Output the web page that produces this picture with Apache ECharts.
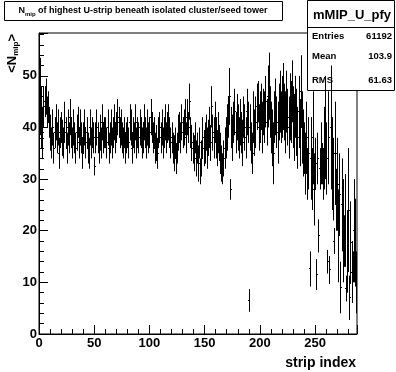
<!DOCTYPE html>
<html>
<head>
<meta charset="utf-8">
<script src="https://cdn.jsdelivr.net/npm/echarts@6/dist/echarts.min.js"></script>
<style>
html,body{margin:0;padding:0;background:#fff;}
#c{width:396px;height:372px;}
</style>
</head>
<body>
<div id="c"></div>
<script>
// ---- data ----
const xTicks = [0, 50, 100, 150, 200, 250];
const yTicks = [0, 10, 20, 30, 40, 50];
const binMeans = [
  36, 46, 42, 39, 44, 45, 46, 43, 44, 41,
  39, 37, 40, 36, 39, 41, 38, 40, 35, 39,
  40, 38, 37, 41, 39, 36, 40, 38, 42, 39,
  37, 40, 38, 36, 39, 41, 37, 40, 38, 35,
  38, 40, 37, 39, 36, 35, 40, 37, 39, 38,
  32.5, 38, 40, 38, 36, 39, 37, 41, 38, 39,
  39, 37, 40, 36, 38, 40, 37, 39, 41, 38,
  40, 42, 41, 39, 40, 38, 37, 39, 36, 38,
  39, 37, 41, 40, 36, 39, 38, 41, 37, 39,
  38, 40, 39, 37, 38, 41, 39, 37, 40, 38,
  39, 42, 40, 38, 39, 36, 37, 35, 39, 40,
  38, 40, 37, 39, 41, 38, 40, 41, 39, 37,
  38, 36, 35, 37, 34, 36, 39, 40, 38, 41,
  39, 40, 42, 38, 42, 40, 45, 39, 37, 36,
  35, 38, 34, 36, 33, 37, 31.5, 34, 38, 36,
  37, 39, 36, 38, 40, 37, 44, 39, 38, 41,
  38, 36, 39, 37, 35, 33, 32, 34, 36, 38,
  40, 42, 46, 28, 40, 38, 41, 43, 39, 42,
  40, 38, 41, 39, 37, 42, 40, 38, 43, 41,
  6.5, 40, 37, 35, 42, 39, 41, 44, 45, 40,
  42, 44, 40, 43, 42, 45, 41, 46, 48, 43,
  40, 38, 35, 42, 44, 41, 39, 43, 45, 42,
  44, 46, 43, 41, 45, 42, 40, 44, 43, 47,
  42, 40, 44, 41, 38, 43, 39, 47, 40, 37,
  36, 33, 38, 31, 35, 12.6, 34, 30, 38, 28,
  33, 11.5, 34, 19, 32, 35, 33, 31, 36, 40,
  34, 14, 38, 12.4, 40, 33, 30, 18, 35, 26,
  29, 19, 27, 9, 25, 20, 18, 22, 8.8, 16,
  24, 7, 17.7, 12, 13, 20, 17.7, 10
];
const binErrors = [
  6.5, 7.5, 6, 5, 4, 3, 3.5, 3, 3, 3,
  3.5, 3, 3.5, 3, 3, 3.5, 3, 3.5, 3, 3,
  3, 3.5, 3, 4, 3, 3, 3.5, 3, 3.5, 3,
  3, 3.5, 3, 3, 3.5, 3, 3, 3.5, 3, 3,
  3, 3.5, 3, 3, 3, 3, 3.5, 3, 3, 3,
  1.8, 3, 3.5, 3, 3, 3.5, 3, 3.5, 3, 3,
  3, 3, 3.5, 3, 3, 3.5, 3, 3, 3.5, 3,
  3, 3.5, 3, 3, 3.5, 3, 3, 3, 3, 3,
  3, 3, 3.5, 3.5, 3, 3, 3, 3.5, 3, 3,
  3, 3.5, 3, 3, 3, 3.5, 3, 3, 3.5, 3,
  3, 3.5, 3, 3, 3, 3, 3.5, 3, 3, 3,
  3, 3.5, 3, 3, 3.5, 3, 3, 3.5, 3, 3,
  3, 3, 3.5, 3, 3, 3, 3.5, 3, 3, 3.5,
  3, 3.5, 3.5, 3, 3.5, 3, 3.5, 3, 3.5, 3,
  3.5, 3, 3.5, 3, 3.5, 3, 2.5, 3.5, 4, 3.5,
  4, 3.5, 4, 3.5, 4, 3.5, 4, 3.5, 4, 4,
  4, 3.5, 4, 3.5, 4, 3.5, 3, 3.5, 4, 4,
  4.5, 4, 5.5, 2, 4, 4.5, 4, 4.5, 4, 4.5,
  4.5, 4, 4.5, 4, 4.5, 4, 4.5, 4, 4.5, 4,
  2.2, 4.5, 4, 4, 5, 4.5, 5, 4.5, 4, 4.5,
  5, 4.5, 5, 4.5, 5, 5, 4.5, 6, 6.5, 5,
  5, 5.5, 6, 5, 5.5, 5, 6, 5.5, 6, 5,
  6, 6.5, 5.5, 6, 6, 5.5, 6, 6.5, 6, 6,
  6, 6.5, 6, 6.5, 6, 7, 6.5, 7, 7, 6.5,
  5, 6, 7, 5, 7, 3.4, 8, 6, 9, 7,
  5, 3, 5, 3.2, 4, 6, 4, 5, 8, 10,
  7, 2.3, 9, 2.7, 12, 9, 8, 2.5, 10, 6,
  9, 9, 8, 5, 9, 10, 5, 9, 2.5, 8,
  12, 4.3, 8, 6, 3, 10, 8.5, 6
];
const histTitle = 'of highest U-strip beneath isolated cluster/seed tower';
const statName = 'mMIP_U_pfy';
const statLabels = ['Entries', 'Mean', 'RMS'];
const statValues = ['61192', '103.9', '61.63'];

// ---- chart ----
const data = binMeans.map((m, i) => [i, m, binErrors[i]]);
const FONT = '"Liberation Sans", Arial, Helvetica, sans-serif';
const chart = echarts.init(document.getElementById('c'), null, {renderer: 'canvas'});
const X0 = 39, Y0 = 33, W = 318, H = 301;
const xMax = 288, yMax = 58.3;

function snap(v){ return Math.round(v - 0.5) + 0.5; }

const option = {
  animation: false,
  backgroundColor: '#fff',
  grid: {left: X0, top: Y0, width: W, height: H, show: true, borderColor: '#000', borderWidth: 1, backgroundColor: 'transparent'},
  xAxis: [
    {type: 'value', min: 0, max: xMax, interval: 50, position: 'bottom',
     axisLine: {show: true, lineStyle: {color: '#000', width: 1}},
     axisTick: {show: true, inside: true, length: 9, lineStyle: {color: '#000'}},
     axisLabel: {show: true, margin: 3, color: '#000', fontFamily: FONT, fontWeight: 'bold', fontSize: 13,
       formatter: v => xTicks.includes(v) ? String(v) : ''},
     splitLine: {show: false}},
    {type: 'value', min: 0, max: xMax, interval: 10, position: 'bottom',
     axisLine: {show: false}, axisTick: {show: true, inside: true, length: 5, lineStyle: {color: '#000'}},
     axisLabel: {show: false}, splitLine: {show: false}}
  ],
  yAxis: [
    {type: 'value', min: 0, max: yMax, interval: 10, position: 'left',
     axisLine: {show: true, lineStyle: {color: '#000', width: 1}},
     axisTick: {show: true, inside: true, length: 9, lineStyle: {color: '#000'}},
     axisLabel: {show: true, margin: 2, color: '#000', fontFamily: FONT, fontWeight: 'bold', fontSize: 13,
       formatter: v => yTicks.includes(v) ? String(v) : ''},
     splitLine: {show: false}},
    {type: 'value', min: 0, max: yMax, interval: 2, position: 'left',
     axisLine: {show: false}, axisTick: {show: true, inside: true, length: 5, lineStyle: {color: '#000'}},
     axisLabel: {show: false}, splitLine: {show: false}}
  ],
  series: [{
    type: 'custom',
    xAxisIndex: 0, yAxisIndex: 0,
    clip: true,
    data: data,
    renderItem: function (params, api) {
      const x = api.value(0), m = api.value(1), e = api.value(2);
      const top = api.coord([x + 0.5, m + e]);
      const bot = api.coord([x + 0.5, m - e]);
      const l = api.coord([x, m]);
      const r = api.coord([x + 1, m]);
      const cx = snap(top[0]);
      const my = snap(l[1]);
      return {
        type: 'group',
        children: [
          {type: 'line', shape: {x1: cx, y1: top[1], x2: cx, y2: bot[1]}, style: {stroke: '#000', lineWidth: 1}},
          {type: 'line', shape: {x1: Math.floor(l[0]), y1: my, x2: Math.ceil(r[0]), y2: my}, style: {stroke: '#000', lineWidth: 1}}
        ]
      };
    }
  }],
  graphic: [
    // title box
    {type: 'rect', shape: {x: 4.5, y: 1.5, width: 278, height: 19}, style: {fill: '#fff', stroke: '#000', lineWidth: 1}},
    {type: 'text', x: 143, y: 11, style: {
      text: '{n|N}{s|mip}{t| ' + histTitle + '}',
      align: 'center', verticalAlign: 'middle',
      rich: {
        n: {fontFamily: FONT, fontWeight: 'bold', fontSize: 9, fill: '#000'},
        s: {fontFamily: FONT, fontWeight: 'bold', fontSize: 6, fill: '#000', padding: [7, 0, 0, 0]},
        t: {fontFamily: FONT, fontWeight: 'bold', fontSize: 9, fill: '#000'}
      }
    }},
    // stats box
    {type: 'rect', shape: {x: 307.5, y: 0.5, width: 87, height: 90}, style: {fill: '#fff', stroke: '#000', lineWidth: 1}},
    {type: 'line', shape: {x1: 307.5, y1: 27.5, x2: 394.5, y2: 27.5}, style: {stroke: '#000', lineWidth: 1}},
    {type: 'text', x: 352, y: 15, style: {text: statName, align: 'center', verticalAlign: 'middle', fontFamily: FONT, fontWeight: 'bold', fontSize: 13, fill: '#000'}},
    {type: 'text', x: 312, y: 36, style: {text: statLabels[0], align: 'left', verticalAlign: 'middle', fontFamily: FONT, fontWeight: 'bold', fontSize: 9.5, fill: '#000'}},
    {type: 'text', x: 392, y: 36, style: {text: statValues[0], align: 'right', verticalAlign: 'middle', fontFamily: FONT, fontWeight: 'bold', fontSize: 9.5, fill: '#000'}},
    {type: 'text', x: 312, y: 56, style: {text: statLabels[1], align: 'left', verticalAlign: 'middle', fontFamily: FONT, fontWeight: 'bold', fontSize: 9.5, fill: '#000'}},
    {type: 'text', x: 392, y: 56, style: {text: statValues[1], align: 'right', verticalAlign: 'middle', fontFamily: FONT, fontWeight: 'bold', fontSize: 9.5, fill: '#000'}},
    {type: 'text', x: 312, y: 80, style: {text: statLabels[2], align: 'left', verticalAlign: 'middle', fontFamily: FONT, fontWeight: 'bold', fontSize: 9.5, fill: '#000'}},
    {type: 'text', x: 392, y: 80, style: {text: statValues[2], align: 'right', verticalAlign: 'middle', fontFamily: FONT, fontWeight: 'bold', fontSize: 9.5, fill: '#000'}},
    // axis titles
    {type: 'text', x: 356, y: 363, style: {text: 'strip index', align: 'right', verticalAlign: 'middle', fontFamily: FONT, fontWeight: 'bold', fontSize: 14, fill: '#000'}},
    {type: 'text', x: 12, y: 34, rotation: Math.PI / 2, style: {
      text: '{a|<N}{s|mip}{a|>}', align: 'right', verticalAlign: 'middle',
      rich: {
        a: {fontFamily: FONT, fontWeight: 'bold', fontSize: 13, fill: '#000'},
        s: {fontFamily: FONT, fontWeight: 'bold', fontSize: 8, fill: '#000', padding: [8, 0, 0, 0]}
      }
    }}
  ]
};
chart.setOption(option);
</script>
</body>
</html>
